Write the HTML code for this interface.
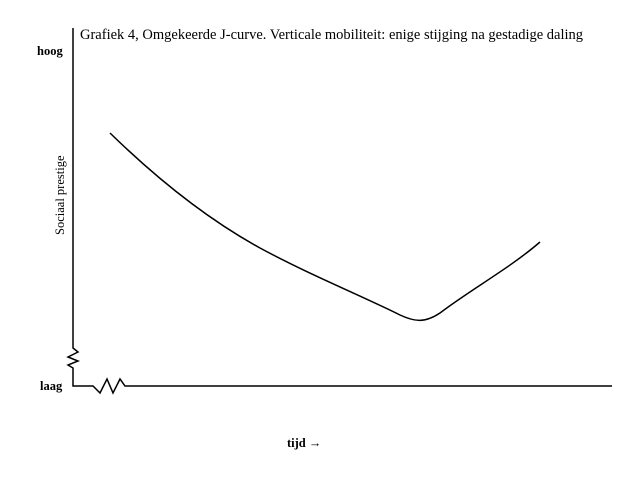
<!DOCTYPE html>
<html><head><style>
body{margin:0;background:#fff;}
svg{display:block;}
text{font-family:"Liberation Serif",serif;fill:#000;}
</style></head><body>
<svg width="641" height="479" viewBox="0 0 641 479" xmlns="http://www.w3.org/2000/svg">
<text x="80" y="39" font-size="14.5">Grafiek 4, Omgekeerde J-curve. Verticale mobiliteit: enige stijging na gestadige daling</text>
<text x="37" y="55" font-size="12.5" font-weight="bold">hoog</text>
<text x="40" y="390" font-size="12.5" font-weight="bold">laag</text>
<text transform="translate(64,235) rotate(-90)" font-size="12.5">Sociaal prestige</text>
<text x="287" y="447" font-size="12.5" font-weight="bold">tijd →</text>
<g fill="none" stroke="#000" stroke-width="1.5">
<path d="M73,28 L73,348 L78,352 L68,357 L78,361 L68,365 L73,368 L73,386 L93,386 L100,393 L107,379 L113,393 L120,379 L125,386 L612,386"/>
<path d="M110,133 C150,172 200,215 260,248 C310,275 360,295 400,315 C415,322 425,323 440,313 C470,290 510,268 540,242"/>
</g>
</svg>
</body></html>
